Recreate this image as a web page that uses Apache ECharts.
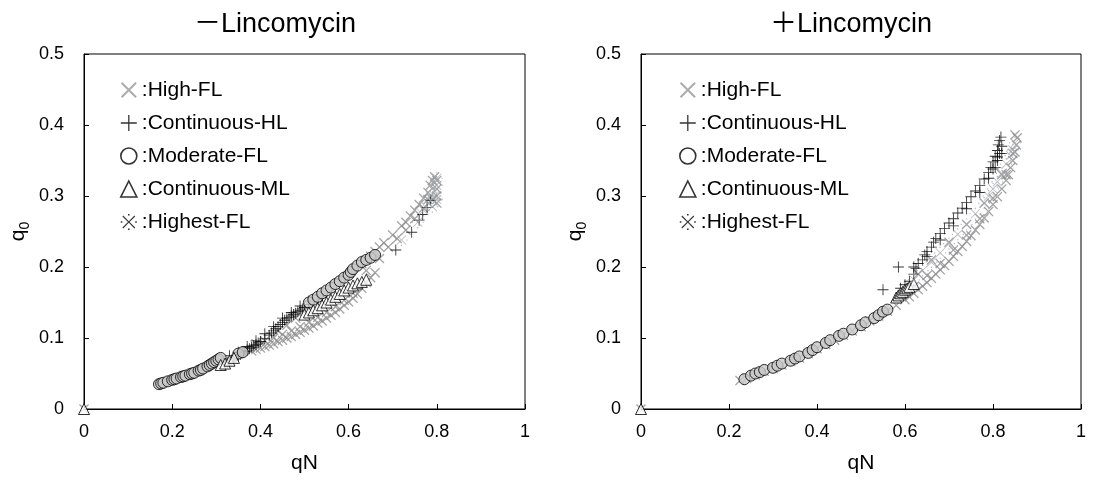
<!DOCTYPE html>
<html>
<head>
<meta charset="utf-8">
<script src="https://cdn.jsdelivr.net/npm/echarts@6/dist/echarts.min.js"></script>
<style>
  html, body { margin: 0; padding: 0; background: #fff; }
  #chart { width: 1093px; height: 485px; }
</style>
</head>
<body>
<div id="chart"></div>
<script>
// 系列名称
const seriesNames = ['High-FL', 'Continuous-HL', 'Moderate-FL', 'Continuous-ML', 'Highest-FL']
const panelTitles = ['－Lincomycin', '＋Lincomycin']
const xTickLabels = ['0', '0.2', '0.4', '0.6', '0.8', '1']
const yTickLabels = ['0', '0.1', '0.2', '0.3', '0.4', '0.5']

// 左图 (-Lincomycin) 数据 [qN, q0]
const leftHighFL = [[0, 0],
  [0.38, 0.082], [0.39, 0.084], [0.40, 0.086], [0.41, 0.088], [0.42, 0.090], [0.43, 0.092], [0.44, 0.095],
  [0.45, 0.097], [0.46, 0.100], [0.47, 0.102], [0.48, 0.105], [0.49, 0.108], [0.50, 0.111], [0.51, 0.114],
  [0.52, 0.117], [0.53, 0.121], [0.54, 0.124], [0.55, 0.128], [0.56, 0.132], [0.57, 0.136], [0.58, 0.141],
  [0.59, 0.146], [0.60, 0.151], [0.61, 0.156], [0.62, 0.162], [0.44, 0.110], [0.46, 0.118], [0.48, 0.128],
  [0.39, 0.092], [0.41, 0.096], [0.43, 0.100], [0.45, 0.105], [0.47, 0.110], [0.49, 0.116], [0.51, 0.122],
  [0.53, 0.129], [0.55, 0.136], [0.57, 0.144], [0.59, 0.153], [0.61, 0.163],
  [0.63, 0.170], [0.64, 0.178], [0.65, 0.185], [0.66, 0.192],
  [0.63, 0.205], [0.64, 0.210], [0.65, 0.215], [0.66, 0.222], [0.67, 0.228], [0.68, 0.234], [0.70, 0.245],
  [0.72, 0.258], [0.73, 0.263], [0.74, 0.272], [0.75, 0.280], [0.76, 0.288], [0.77, 0.297], [0.78, 0.305],
  [0.785, 0.315], [0.79, 0.322], [0.795, 0.327], [0.80, 0.322], [0.80, 0.310], [0.80, 0.300], [0.79, 0.295], [0.80, 0.290],
  [0.64, 0.195], [0.67, 0.212], [0.69, 0.228], [0.71, 0.240], [0.73, 0.252], [0.75, 0.268], [0.77, 0.283], [0.78, 0.295]]
const leftContHL = [
  [0.32, 0.063], [0.325, 0.065], [0.33, 0.067], [0.335, 0.069], [0.34, 0.071], [0.345, 0.073], [0.35, 0.075],
  [0.355, 0.077], [0.36, 0.079], [0.365, 0.081], [0.37, 0.083], [0.375, 0.085], [0.38, 0.087], [0.385, 0.089],
  [0.39, 0.091], [0.395, 0.093], [0.40, 0.095], [0.41, 0.099], [0.42, 0.104], [0.425, 0.107], [0.43, 0.110],
  [0.435, 0.113], [0.44, 0.116], [0.445, 0.119], [0.45, 0.122], [0.455, 0.125], [0.46, 0.127], [0.465, 0.129],
  [0.47, 0.131], [0.475, 0.133], [0.48, 0.135], [0.485, 0.137], [0.49, 0.139], [0.495, 0.141], [0.50, 0.143],
  [0.51, 0.147], [0.52, 0.151], [0.53, 0.155], [0.54, 0.159],
  [0.33, 0.075], [0.35, 0.080], [0.37, 0.088], [0.39, 0.096], [0.41, 0.106], [0.43, 0.116], [0.45, 0.128],
  [0.47, 0.136], [0.49, 0.145], [0.51, 0.152], [0.53, 0.160],
  [0.707, 0.224], [0.743, 0.249], [0.76, 0.266], [0.768, 0.274], [0.778, 0.284], [0.786, 0.294]]
const leftModFL = [
  [0.17, 0.035], [0.175, 0.036], [0.18, 0.037], [0.19, 0.039], [0.20, 0.041], [0.205, 0.042], [0.21, 0.043],
  [0.22, 0.045], [0.225, 0.046], [0.23, 0.047], [0.24, 0.049], [0.245, 0.050], [0.25, 0.051], [0.26, 0.054],
  [0.265, 0.055], [0.27, 0.057], [0.28, 0.060], [0.285, 0.062], [0.29, 0.064], [0.295, 0.066], [0.30, 0.068],
  [0.305, 0.070], [0.31, 0.072], [0.35, 0.078], [0.36, 0.080],
  [0.51, 0.150], [0.52, 0.154], [0.53, 0.158], [0.54, 0.163], [0.55, 0.167], [0.56, 0.171], [0.57, 0.176],
  [0.58, 0.180], [0.59, 0.185], [0.60, 0.189], [0.605, 0.193], [0.61, 0.197], [0.62, 0.202], [0.63, 0.207],
  [0.64, 0.210], [0.65, 0.213], [0.66, 0.217]]
const leftContML = [[0, 0],
  [0.31, 0.062], [0.32, 0.064], [0.33, 0.068], [0.34, 0.072],
  [0.50, 0.133], [0.51, 0.136], [0.52, 0.139], [0.53, 0.142], [0.54, 0.146], [0.55, 0.150], [0.56, 0.154],
  [0.57, 0.158], [0.58, 0.162], [0.59, 0.167], [0.60, 0.171], [0.61, 0.174], [0.62, 0.177], [0.63, 0.179], [0.64, 0.182]]
const leftHighestFL = [
  [0.72, 0.238], [0.757, 0.263], [0.77, 0.280], [0.78, 0.290], [0.785, 0.300], [0.79, 0.310], [0.795, 0.318],
  [0.80, 0.325], [0.80, 0.315], [0.795, 0.300], [0.80, 0.295], [0.79, 0.285]]

// 右图 (+Lincomycin) 数据
const rightHighFL = [[0, 0],
  [0.225, 0.040], [0.24, 0.043], [0.26, 0.048], [0.28, 0.053], [0.30, 0.057], [0.32, 0.062], [0.34, 0.067],
  [0.36, 0.072], [0.38, 0.078], [0.40, 0.085], [0.42, 0.091], [0.44, 0.097], [0.46, 0.104], [0.48, 0.110],
  [0.50, 0.116], [0.52, 0.124], [0.54, 0.131], [0.56, 0.138], [0.58, 0.146], [0.60, 0.154], [0.61, 0.158],
  [0.62, 0.163], [0.63, 0.168], [0.64, 0.173], [0.65, 0.178], [0.66, 0.184], [0.67, 0.190], [0.68, 0.196],
  [0.69, 0.202], [0.70, 0.208], [0.71, 0.215], [0.72, 0.222], [0.73, 0.229], [0.74, 0.236], [0.75, 0.244],
  [0.76, 0.252], [0.77, 0.260], [0.78, 0.269], [0.79, 0.278], [0.80, 0.288], [0.81, 0.299], [0.82, 0.310],
  [0.83, 0.322], [0.835, 0.330], [0.84, 0.340], [0.845, 0.350], [0.85, 0.362], [0.853, 0.372], [0.855, 0.382],
  [0.85, 0.386], [0.63, 0.190], [0.66, 0.210], [0.70, 0.235], [0.74, 0.260], [0.78, 0.290], [0.82, 0.330],
  [0.62, 0.172], [0.65, 0.188], [0.68, 0.205], [0.71, 0.224], [0.74, 0.245], [0.77, 0.268], [0.80, 0.297],
  [0.83, 0.330], [0.845, 0.360]]
const rightContHL = [
  [0.55, 0.168], [0.585, 0.200], [0.59, 0.170], [0.60, 0.175], [0.61, 0.180], [0.62, 0.190], [0.625, 0.198],
  [0.63, 0.205], [0.64, 0.210], [0.645, 0.217], [0.65, 0.222], [0.66, 0.228], [0.665, 0.235], [0.67, 0.240],
  [0.68, 0.247], [0.69, 0.254], [0.70, 0.262], [0.71, 0.268], [0.72, 0.276], [0.73, 0.283], [0.74, 0.291],
  [0.75, 0.299], [0.76, 0.307], [0.77, 0.315], [0.78, 0.324], [0.79, 0.333], [0.795, 0.340], [0.80, 0.348],
  [0.805, 0.356], [0.81, 0.364], [0.812, 0.372], [0.815, 0.378], [0.818, 0.383], [0.81, 0.350], [0.815, 0.360], [0.805, 0.340],
  [0.62, 0.200], [0.65, 0.215], [0.68, 0.238], [0.71, 0.258], [0.74, 0.282], [0.77, 0.305], [0.79, 0.325],
  [0.80, 0.338], [0.81, 0.355], [0.82, 0.370], [0.82, 0.360]]
const rightModFL = [
  [0.235, 0.042], [0.25, 0.047], [0.26, 0.050], [0.27, 0.052], [0.28, 0.055], [0.30, 0.058], [0.31, 0.061],
  [0.32, 0.064], [0.34, 0.068], [0.35, 0.071], [0.36, 0.074], [0.38, 0.079], [0.39, 0.083], [0.40, 0.087],
  [0.42, 0.093], [0.43, 0.097], [0.45, 0.103], [0.46, 0.106], [0.48, 0.112], [0.50, 0.118], [0.51, 0.122],
  [0.53, 0.128], [0.54, 0.132], [0.55, 0.137], [0.56, 0.140]]
const rightContML = [[0, 0],
  [0.58, 0.157], [0.585, 0.160], [0.59, 0.163], [0.595, 0.165], [0.60, 0.168], [0.605, 0.170], [0.61, 0.172], [0.62, 0.176]]
const rightHighestFL = [
  [0.62, 0.182], [0.64, 0.195], [0.66, 0.207], [0.68, 0.220], [0.70, 0.233], [0.72, 0.246], [0.74, 0.260],
  [0.76, 0.275], [0.78, 0.290], [0.79, 0.300], [0.80, 0.310], [0.81, 0.320], [0.82, 0.332], [0.83, 0.345],
  [0.84, 0.357], [0.845, 0.365], [0.85, 0.375]]

const panelData = [
  [leftHighFL, leftContHL, leftModFL, leftContML, leftHighestFL],
  [rightHighFL, rightContHL, rightModFL, rightContML, rightHighestFL]
]

const FONT = '"Liberation Sans", Arial, "Noto Sans CJK JP", sans-serif'

// 符号形状
const crossPath = 'path://M0,1.8L1.8,0L10,8.2L18.2,0L20,1.8L11.8,10L20,18.2L18.2,20L10,11.8L1.8,20L0,18.2L8.2,10Z'
const plusPath = 'path://M9.2,0H10.8V9.2H20V10.8H10.8V20H9.2V10.8H0V9.2H9.2Z'
const komePath = 'path://M2,3L3,2L10,9L17,2L18,3L11,10L18,17L17,18L10,11L3,18L2,17L9,10Z' +
  'M9,0H11V2H9Z M9,18H11V20H9Z M0,9H2V11H0Z M18,9H20V11H18Z'

const styles = [
  { symbol: crossPath, symbolSize: 10, itemStyle: { color: '#8c8c8c' } },
  { symbol: plusPath, symbolSize: 11, itemStyle: { color: '#000' } },
  { symbol: 'circle', symbolSize: 11, itemStyle: { color: '#c8c8c8', borderColor: '#000', borderWidth: 1 } },
  { symbol: 'triangle', symbolSize: 11, itemStyle: { color: '#fff', borderColor: '#000', borderWidth: 1 } },
  { symbol: komePath, symbolSize: 12, itemStyle: { color: '#a2a6ae' } }
]

const legendIcons = [
  { icon: crossPath, itemStyle: { color: '#999', borderWidth: 0 } },
  { icon: plusPath, itemStyle: { color: '#000', borderWidth: 0 } },
  { icon: 'circle', itemStyle: { color: '#fff', borderColor: '#000', borderWidth: 1.6 } },
  { icon: 'triangle', itemStyle: { color: '#fff', borderColor: '#000', borderWidth: 1.6 } },
  { icon: komePath, itemStyle: { color: '#000', borderWidth: 0 } }
]

const grids = [
  { left: 84, top: 54, width: 441, height: 355 },
  { left: 641, top: 54, width: 440, height: 355 }
]
const titleCenters = [270, 846]
const legendLeft = [115, 674]

const myChart = echarts.init(document.getElementById('chart'))

const option = {
  backgroundColor: '#fff',
  animation: false,
  textStyle: { fontFamily: FONT },
  title: panelTitles.map((t, i) => ({
    text: t,
    left: titleCenters[i],
    top: 6,
    textAlign: 'center',
    textStyle: { fontSize: 27, fontWeight: 'normal', color: '#000', fontFamily: FONT }
  })),
  grid: grids.map(g => ({ ...g, show: true, borderColor: '#000', borderWidth: 1, backgroundColor: 'transparent' })),
  legend: legendLeft.map(l => ({
    orient: 'vertical',
    left: l,
    top: 73,
    itemWidth: 16,
    itemHeight: 16,
    itemGap: 9,
    selectedMode: false,
    formatter: name => ':' + name,
    textStyle: { fontSize: 21, color: '#000', lineHeight: 24, fontFamily: FONT },
    data: seriesNames.map((n, k) => ({ name: n, ...legendIcons[k] }))
  })),
  xAxis: grids.map((g, i) => ({
    type: 'value',
    gridIndex: i,
    min: 0,
    max: 1,
    interval: 0.2,
    name: 'qN',
    nameLocation: 'middle',
    nameGap: 44,
    nameTextStyle: { fontSize: 21, color: '#000' },
    axisLine: { lineStyle: { color: '#000', width: 1 } },
    axisTick: { inside: true, length: 5, lineStyle: { color: '#000' } },
    axisLabel: {
      fontSize: 18, color: '#000', margin: 14,
      formatter: v => xTickLabels[Math.round(v / 0.2)]
    },
    splitLine: { show: false }
  })),
  yAxis: grids.map((g, i) => ({
    type: 'value',
    gridIndex: i,
    min: 0,
    max: 0.5,
    interval: 0.1,
    name: '{q|q}{s|0}',
    nameLocation: 'middle',
    nameRotate: 90,
    nameGap: 52,
    nameTextStyle: {
      color: '#000',
      rich: {
        q: { fontSize: 21, lineHeight: 28, verticalAlign: 'middle', color: '#000', fontFamily: FONT },
        s: { fontSize: 14, lineHeight: 14, verticalAlign: 'bottom', color: '#000', fontFamily: FONT }
      }
    },
    axisLine: { lineStyle: { color: '#000', width: 1 } },
    axisTick: { inside: true, length: 5, lineStyle: { color: '#000' } },
    axisLabel: {
      fontSize: 18, color: '#000', margin: 20,
      formatter: v => yTickLabels[Math.round(v / 0.1)]
    },
    splitLine: { show: false }
  })),
  series: []
}

panelData.forEach((sets, i) => {
  sets.forEach((data, k) => {
    option.series.push({
      name: seriesNames[k],
      type: 'scatter',
      xAxisIndex: i,
      yAxisIndex: i,
      data: data,
      clip: false,
      symbol: styles[k].symbol,
      symbolSize: styles[k].symbolSize,
      itemStyle: styles[k].itemStyle,
      emphasis: { disabled: true }
    })
  })
})

myChart.setOption(option)
</script>
</body>
</html>
